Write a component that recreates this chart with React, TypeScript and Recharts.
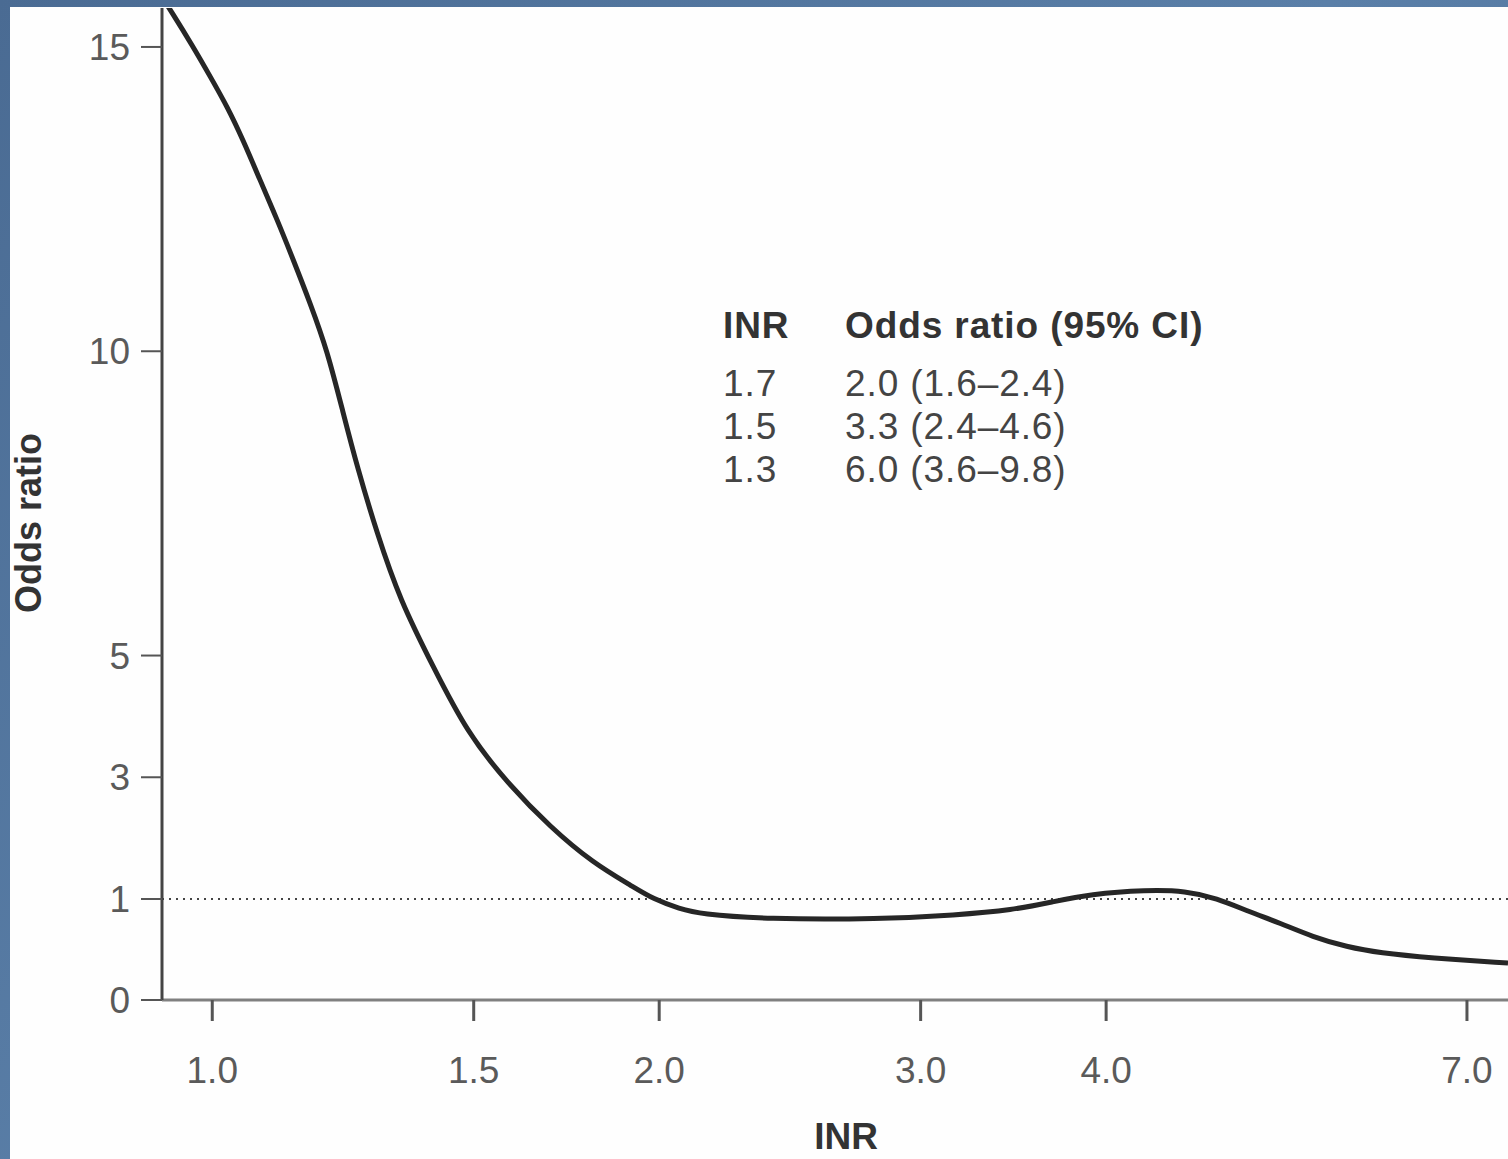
import { Label, Line, LineChart, ReferenceLine, XAxis, YAxis } from "recharts";

// INR values along the fitted curve (log x axis)
const inr = [
  0.925, 0.937, 0.971, 0.997, 1.024, 1.049, 1.077, 1.106, 1.134, 1.164,
  1.195, 1.225, 1.252, 1.291, 1.338, 1.409, 1.485, 1.58, 1.689, 1.805,
  1.921, 1.981, 2.066, 2.131, 2.357, 2.817, 3.169, 3.462, 3.678, 3.901,
  4.261, 4.527, 4.743, 5.0, 5.237, 5.512, 5.81, 6.116, 6.609, 7.46,
];
const oddsRatio = [
  15.82, 15.61, 15.0, 14.51, 14.01, 13.47, 12.81, 12.16, 11.5, 10.79,
  10.02, 8.99, 8.1, 7.01, 5.91, 4.81, 3.73, 2.91, 2.18, 1.59,
  1.2, 1.0, 0.901, 0.851, 0.8, 0.8, 0.841, 0.891, 0.97, 1.08,
  1.148, 1.131, 1.016, 0.871, 0.762, 0.624, 0.525, 0.465, 0.416, 0.366,
];

const xTicks = [1.0, 1.5, 2.0, 3.0, 4.0, 7.0];
const yTicks = [0, 1, 3, 5, 10, 15];

const tableInr = ["1.7", "1.5", "1.3"];
const tableOr = ["2.0 (1.6–2.4)", "3.3 (2.4–4.6)", "6.0 (3.6–9.8)"];

// the y axis is stretched between 0 and 1, linear above 1
const K = 1.66;
const warp = (v: number) => (v < 1 ? v * K : K + (v - 1));
const unwarp = (w: number) => (w < K ? w / K : w - K + 1);

const data = inr.map((x, i) => ({ inr: x, or: oddsRatio[i] }));

const font = "'Liberation Sans', Arial, Helvetica, sans-serif";

export default function App() {
  return (
    <div
      style={{
        position: "absolute",
        left: 0,
        top: 0,
        width: 1508,
        height: 1159,
        background: "linear-gradient(135deg, #4a6b93 0%, #5a7fa8 50%, #4b6d96 100%)",
        overflow: "hidden",
      }}
    >
      <div
        style={{
          position: "absolute",
          left: 10,
          top: 7,
          width: 1498,
          height: 1152,
          background: "#fefefe",
        }}
      />
      <div style={{ position: "absolute", left: 0, top: 0 }}>
        <LineChart
          width={1508}
          height={1159}
          data={data}
          margin={{ top: 8, right: 0, bottom: 0, left: 0 }}
        >
          <XAxis
            type="number"
            dataKey="inr"
            scale="log"
            domain={[0.925, 7.46]}
            allowDataOverflow
            ticks={xTicks}
            interval={0}
            tickFormatter={(v: number) => v.toFixed(1)}
            height={159}
            axisLine={{ stroke: "#808080", strokeWidth: 3 }}
            tickLine={{ stroke: "#555", strokeWidth: 3 }}
            tickSize={21}
            tickMargin={36}
            tick={{ fill: "#5a5a5a", fontSize: 37, fontFamily: font }}
          >
            <Label
              content={() => (
                <text
                  x={846}
                  y={1149}
                  textAnchor="middle"
                  fontFamily={font}
                  fontWeight="bold"
                  fontSize={37}
                  fill="#333"
                >
                  INR
                </text>
              )}
            />
          </XAxis>
          <YAxis
            type="number"
            domain={[0, 16.3]}
            allowDataOverflow
            ticks={yTicks.map(warp)}
            interval={0}
            tickFormatter={(v: number) => String(Math.round(unwarp(v)))}
            width={162}
            axisLine={{ stroke: "#444", strokeWidth: 3 }}
            tickLine={{ stroke: "#555", strokeWidth: 2 }}
            tickSize={21}
            tickMargin={11}
            tick={{ fill: "#5a5a5a", fontSize: 37, fontFamily: font }}
          >
            <Label
              content={() => (
                <text
                  x={41}
                  y={523}
                  transform="rotate(-90 41 523)"
                  textAnchor="middle"
                  fontFamily={font}
                  fontWeight="bold"
                  fontSize={36}
                  fill="#333"
                >
                  Odds ratio
                </text>
              )}
            />
          </YAxis>
          <ReferenceLine
            y={warp(1)}
            stroke="#444"
            strokeWidth={2}
            strokeDasharray="2 5"
          />
          <Line
            type="basis"
            dataKey={(d: { or: number }) => warp(d.or)}
            stroke="#262626"
            strokeWidth={5}
            dot={false}
            activeDot={false}
            isAnimationActive={false}
          />
        </LineChart>
      </div>
      <svg
        width={1508}
        height={1159}
        style={{ position: "absolute", left: 0, top: 0, pointerEvents: "none" }}
      >
        <g fontFamily={font} fontSize={37} letterSpacing={0.9}>
          <text x={723} y={338} fontWeight="bold" fill="#333">
            INR
          </text>
          <text x={845} y={338} fontWeight="bold" fill="#333">
            Odds ratio (95% CI)
          </text>
          {tableInr.map((v, i) => (
            <text key={v} x={723} y={396 + i * 43} fill="#444">
              {v}
            </text>
          ))}
          {tableOr.map((v, i) => (
            <text key={v} x={845} y={396 + i * 43} fill="#444">
              {v}
            </text>
          ))}
        </g>
      </svg>
    </div>
  );
}
